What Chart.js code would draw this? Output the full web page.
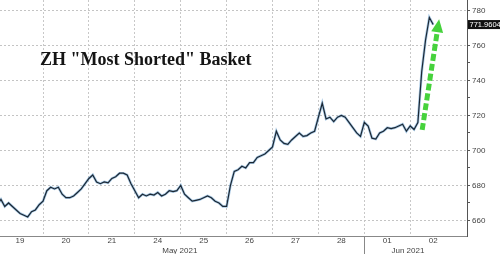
<!DOCTYPE html>
<html>
<head>
<meta charset="utf-8">
<script src="https://cdn.jsdelivr.net/npm/chart.js@4.4.0/dist/chart.umd.min.js"></script>
<style>
    html, body { margin: 0; padding: 0; background: #fff; }
    #wrap { width: 500px; height: 254px; }
</style>
</head>
<body>
<div id="wrap"><canvas id="chart" width="500" height="254"></canvas></div>
<script>
const dayLabels = ["19", "20", "21", "24", "25", "26", "27", "28", "01", "02"];
const monthLabels = ["May 2021", "Jun 2021"];
const monthPos = [3.98, 8.95];
const monthBreak = 8;
const yTicks = [660, 680, 700, 720, 740, 760, 780];
const yMinorTicks = [670, 690, 710, 730, 750, 770];

// intraday readings, 12 slots per trading day
const day19 = [669, 672, 668, 670, 668, 666, 664, 663, 662, 665, 666, 669];
const day20 = [671, 677, 679, 678, 679, 675, 673, 673, 674, 676, 678, 681];
const day21 = [684, 686, 682, 681, 682, 681.5, 684, 685, 687, 687, 686, 681];
const day24 = [677, 673, 675, 674, 675, 674.5, 676, 674, 675, 677, 676.5, 677];
const day25 = [680, 675, 673, 671, 671.5, 672, 673, 674, 673, 671, 670, 668];
const day26 = [668, 680, 688, 689, 691, 690, 693, 693, 696, 697, 698, 700];
const day27 = [702, 711, 706, 704, 703.5, 706, 708, 710, 708, 708.5, 710, 711];
const day28 = [719, 727, 718, 719, 716.5, 719, 720, 719, 716, 713, 710, 708];
const day01 = [716, 714, 707, 706.5, 710, 711, 713, 712.5, 713, 714, 715, 711];
const day02 = [714, 712, 716, 745, 763, 776, 771.9604];
const STEPS = 12;

const lastValue = 771.9604;
const titleText = 'ZH "Most Shorted" Basket';
const arrowFrom = { x: 9.26, y: 711.7 };
const arrowTo = { x: 9.63, y: 775 };

const allDays = [day19, day20, day21, day24, day25, day26, day27, day28, day01, day02];
const points = [];
allDays.forEach((vals, d) => {
    vals.forEach((v, k) => points.push({ x: d + k / STEPS, y: v }));
});

const xMin = 0.063;
const xMax = 10.237;

const overlayPlugin = {
    id: "overlay",
    afterDraw(chart) {
        const { ctx, chartArea, scales } = chart;
        const x = scales.x;
        const y = scales.y;
        ctx.save();

        // title inside the plot
        ctx.font = "bold 18px 'Liberation Serif'";
        ctx.fillStyle = "#151515";
        ctx.textBaseline = "alphabetic";
        ctx.fillText(titleText, chartArea.left + 40, chartArea.top + 65);

        // green dashed arrow
        const x1 = x.getPixelForValue(arrowFrom.x);
        const y1 = y.getPixelForValue(arrowFrom.y);
        const x2 = x.getPixelForValue(arrowTo.x);
        const y2 = y.getPixelForValue(arrowTo.y);
        const ang = Math.atan2(y2 - y1, x2 - x1);
        const head = 13;
        const bx = x2 - head * Math.cos(ang);
        const by = y2 - head * Math.sin(ang);
        ctx.strokeStyle = "#46d23c";
        ctx.fillStyle = "#46d23c";
        ctx.lineWidth = 5;
        ctx.setLineDash([7, 3]);
        ctx.beginPath();
        ctx.moveTo(x1, y1);
        ctx.lineTo(bx, by);
        ctx.stroke();
        ctx.setLineDash([]);
        ctx.beginPath();
        ctx.moveTo(x2, y2);
        ctx.lineTo(bx + 6 * Math.sin(ang), by - 6 * Math.cos(ang));
        ctx.lineTo(bx - 6 * Math.sin(ang), by + 6 * Math.cos(ang));
        ctx.closePath();
        ctx.fill();

        // month separator below the axis
        const mx = x.getPixelForValue(monthBreak);
        ctx.strokeStyle = "#888";
        ctx.lineWidth = 1;
        ctx.beginPath();
        ctx.moveTo(Math.round(mx) + 0.5, chartArea.bottom);
        ctx.lineTo(Math.round(mx) + 0.5, chart.height);
        ctx.stroke();

        // last value tag
        const ly = y.getPixelForValue(lastValue);
        ctx.fillStyle = "#111";
        ctx.fillRect(chartArea.right + 1, ly - 4.5, 33, 9);
        ctx.fillStyle = "#fff";
        ctx.font = "7.5px 'Liberation Sans'";
        ctx.textBaseline = "middle";
        ctx.fillText(lastValue.toFixed(4), chartArea.right + 2.5, ly + 0.5);
        ctx.restore();
    },
};

const noPad = (s) => {
    s.paddingTop = 0;
    s.paddingBottom = 0;
    s.paddingLeft = 0;
    s.paddingRight = 0;
};

new Chart(document.getElementById("chart"), {
    type: "line",
    data: {
        datasets: [
            {
                // blue halo under the price line
                data: points,
                borderColor: "rgba(95,155,205,0.55)",
                borderWidth: 2.6,
                pointRadius: 0,
                tension: 0,
                order: 2,
            },
            {
                data: points,
                borderColor: "#1b2733",
                borderWidth: 1.2,
                pointRadius: 0,
                tension: 0,
                order: 1,
            },
        ],
    },
    options: {
        responsive: false,
        animation: false,
        devicePixelRatio: 1,
        layout: { padding: 0 },
        plugins: {
            legend: { display: false },
            tooltip: { enabled: false },
        },
        scales: {
            x: {
                type: "linear",
                position: "bottom",
                min: xMin,
                max: xMax,
                weight: 0,
                afterBuildTicks: (s) => {
                    s.ticks = dayLabels.map((_, i) => ({ value: i + 0.5 }));
                },
                afterFit: (s) => {
                    s.height = 10;
                    noPad(s);
                },
                ticks: {
                    autoSkip: false,
                    maxRotation: 0,
                    padding: 0,
                    color: "#444",
                    font: { family: "Liberation Sans", size: 8 },
                    callback: (v, i) => dayLabels[i],
                },
                grid: { display: false, drawTicks: false, tickLength: 0 },
                border: { display: true, color: "#888" },
            },
            xg: {
                type: "linear",
                position: "bottom",
                min: xMin,
                max: xMax,
                weight: 1,
                afterBuildTicks: (s) => {
                    s.ticks = dayLabels.slice(1).map((_, i) => ({ value: i + 1 }));
                },
                afterFit: (s) => {
                    s.height = 0;
                    noPad(s);
                },
                ticks: { display: false },
                grid: { color: "#c8c8c8", drawTicks: false, tickLength: 0 },
                border: { display: false, dash: [2, 2] },
            },
            xm: {
                type: "linear",
                position: "bottom",
                min: xMin,
                max: xMax,
                weight: 2,
                afterBuildTicks: (s) => {
                    s.ticks = monthPos.map((v) => ({ value: v }));
                },
                afterFit: (s) => {
                    s.height = 8;
                    noPad(s);
                },
                ticks: {
                    autoSkip: false,
                    maxRotation: 0,
                    padding: 0,
                    color: "#444",
                    font: { family: "Liberation Sans", size: 8 },
                    callback: (v, i) => monthLabels[i],
                },
                grid: { display: false, drawTicks: false, tickLength: 0 },
                border: { display: false },
            },
            y: {
                position: "right",
                min: 651.1,
                max: 786,
                afterBuildTicks: (s) => {
                    s.ticks = yTicks
                        .concat(yMinorTicks)
                        .sort((a, b) => a - b)
                        .map((v) => ({ value: v }));
                },
                afterFit: (s) => {
                    s.width = 33;
                    noPad(s);
                },
                ticks: {
                    padding: 2,
                    color: "#444",
                    font: { family: "Liberation Sans", size: 8 },
                    callback: (v) => (yTicks.includes(v) ? v : ""),
                },
                grid: {
                    color: (c) => (c.tick && yTicks.includes(c.tick.value) ? "#c4c4c4" : "rgba(0,0,0,0)"),
                    tickColor: "#555",
                    tickLength: 3,
                },
                border: { display: true, color: "#555", dash: [2, 2] },
            },
        },
    },
    plugins: [overlayPlugin],
});
</script>
</body>
</html>
